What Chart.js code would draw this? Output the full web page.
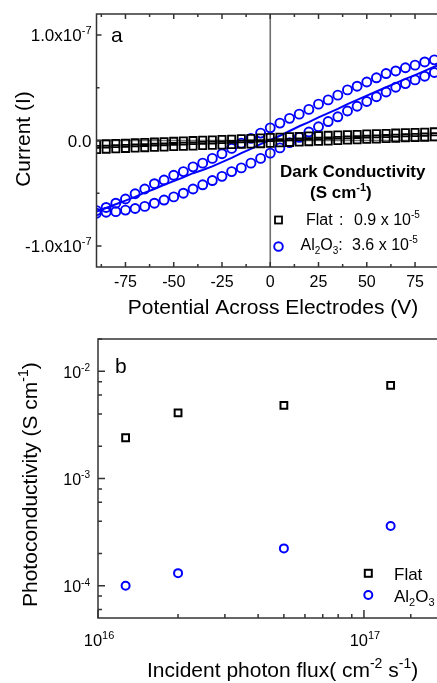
<!DOCTYPE html>
<html><head><meta charset="utf-8">
<script src="https://cdn.jsdelivr.net/npm/chart.js@4/dist/chart.umd.min.js"></script>
<style>
html,body{margin:0;padding:0;background:#fff;overflow:hidden;width:437px;height:683px;}
canvas{position:absolute;left:0;}
#ca{top:0;}
#cb{top:330px;}
</style></head><body>
<canvas id="ca" width="470" height="330"></canvas>
<canvas id="cb" width="470" height="353"></canvas>
<script>
// ---------- Panel a: I-V curves ----------
const potentials = [-90,-85,-80,-75,-70,-65,-60,-55,-50,-45,-40,-35,-30,-25,-20,-15,-10,-5,0,5,10,15,20,25,30,35,40,45,50,55,60,65,70,75,80,85];
const flatForward = [-0.35e-8,-0.32e-8,-0.28e-8,-0.25e-8,-0.21e-8,-0.18e-8,-0.15e-8,-0.11e-8,-0.08e-8,-0.05e-8,-0.01e-8,0.02e-8,0.05e-8,0.09e-8,0.12e-8,0.16e-8,0.2e-8,0.24e-8,0.28e-8,0.31e-8,0.35e-8,0.38e-8,0.42e-8,0.45e-8,0.49e-8,0.52e-8,0.55e-8,0.58e-8,0.61e-8,0.64e-8,0.67e-8,0.7e-8,0.73e-8,0.76e-8,0.79e-8,0.82e-8];
const flatReverse = [-0.85e-8,-0.82e-8,-0.78e-8,-0.75e-8,-0.72e-8,-0.68e-8,-0.65e-8,-0.62e-8,-0.58e-8,-0.55e-8,-0.52e-8,-0.48e-8,-0.45e-8,-0.42e-8,-0.39e-8,-0.36e-8,-0.33e-8,-0.3e-8,-0.26e-8,-0.22e-8,-0.18e-8,-0.15e-8,-0.11e-8,-0.08e-8,-0.04e-8,0.0,0.04e-8,0.07e-8,0.11e-8,0.14e-8,0.18e-8,0.21e-8,0.25e-8,0.28e-8,0.32e-8,0.35e-8];
const al2o3Forward = [-6.65e-8,-6.35e-8,-5.95e-8,-5.55e-8,-5.05e-8,-4.6e-8,-4.1e-8,-3.75e-8,-3.3e-8,-2.95e-8,-2.5e-8,-2.15e-8,-1.7e-8,-1.25e-8,-0.75e-8,-0.25e-8,0.2e-8,0.7e-8,1.2e-8,1.65e-8,2.1e-8,2.5e-8,2.95e-8,3.45e-8,3.85e-8,4.3e-8,4.8e-8,5.15e-8,5.55e-8,5.95e-8,6.35e-8,6.6e-8,6.9e-8,7.15e-8,7.45e-8,7.65e-8];
const al2o3Reverse = [-6.9e-8,-6.8e-8,-6.75e-8,-6.6e-8,-6.45e-8,-6.25e-8,-5.95e-8,-5.65e-8,-5.35e-8,-5.0e-8,-4.6e-8,-4.2e-8,-3.8e-8,-3.4e-8,-2.95e-8,-2.6e-8,-2.15e-8,-1.7e-8,-1.2e-8,-0.7e-8,-0.2e-8,0.3e-8,0.8e-8,1.3e-8,1.8e-8,2.25e-8,2.8e-8,3.25e-8,3.7e-8,4.15e-8,4.6e-8,5.05e-8,5.4e-8,5.75e-8,6.1e-8,6.45e-8];
const fitPotentials = [-90,-85,-80,-75,-70,-65,-60,-55,-50,-45,-40,-35,-30,-25,-20,-15,-10,-5,0,5,10,15,20,25,30,35,40,45,50,55,60,65,70,75,80,85,90];
const al2o3Fit = [-6.75e-8,-6.4e-8,-6.05e-8,-5.7e-8,-5.35e-8,-4.95e-8,-4.6e-8,-4.2e-8,-3.85e-8,-3.5e-8,-3.1e-8,-2.8e-8,-2.45e-8,-2.05e-8,-1.65e-8,-1.2e-8,-0.8e-8,-0.35e-8,0.05e-8,0.45e-8,0.9e-8,1.35e-8,1.75e-8,2.2e-8,2.6e-8,3.0e-8,3.45e-8,3.85e-8,4.25e-8,4.65e-8,5.05e-8,5.45e-8,5.85e-8,6.2e-8,6.6e-8,7.0e-8,7.35e-8];
const xTicksA = [-75,-50,-25,0,25,50,75];
const xMinorA = [-87.5,-62.5,-37.5,-12.5,12.5,37.5,62.5,87.5];
const yTicksA = [1e-7,0,-1e-7];
const yTickLabelsA = ['1.0x10^{-7}','0.0','-1.0x10^{-7}'];
const yMinorA = [5e-8,-5e-8];

// ---------- Panel b: photoconductivity ----------
const photonFlux = [1.27e16,2.0e16,5.0e16,1.26e17];
const flatPhoto = [2.4e-3,4.1e-3,4.8e-3,7.4e-3];
const al2o3Photo = [1.0e-4,1.31e-4,2.23e-4,3.6e-4];
const xTicksB = [1e16,1e17];
const xTickLabelsB = ['10^{16}','10^{17}'];
const yTicksB = [1e-2,1e-3,1e-4];
const yTickLabelsB = ['10^{-2}','10^{-3}','10^{-4}'];

const FONT = "'Liberation Sans', Arial, Helvetica, sans-serif";
const BLUE = '#0000ff';
const AXIS = '#333333';

function pts(xs, ys){ return xs.map((x,i)=>({x:x, y:ys[i]})); }
function parseRich(str){
  const segs=[]; const re=/\^\{([^}]*)\}|_\{([^}]*)\}|([^^_]+)/g; let m;
  while((m=re.exec(str))){
    if(m[1]!==undefined) segs.push({t:m[1],sup:true});
    else if(m[2]!==undefined) segs.push({t:m[2],sub:true});
    else segs.push({t:m[3]});
  }
  return segs;
}
function richFont(s,size,bold){ const sz=(s.sup||s.sub)?Math.round(size*0.65):size; return (bold?'bold ':'')+sz+'px '+FONT; }
function drawRich(ctx,str,x,y,size,opts){
  opts=opts||{};
  const segs=parseRich(str); const bold=!!opts.bold;
  let w=0; for(const s of segs){ctx.font=richFont(s,size,bold); w+=ctx.measureText(s.t).width;}
  let cx = opts.align==='right'?x-w:(opts.align==='center'?x-w/2:x);
  ctx.textAlign='left'; ctx.textBaseline='alphabetic'; ctx.fillStyle=opts.color||'#000';
  for(const s of segs){
    ctx.font=richFont(s,size,bold);
    const dy = s.sup?-size*0.42:(s.sub?size*0.25:0);
    ctx.fillText(s.t,cx,y+dy);
    cx+=ctx.measureText(s.t).width;
  }
}
function drawSquare(ctx,x,y,side,lw){ ctx.save(); ctx.strokeStyle='#000'; ctx.lineWidth=lw; ctx.strokeRect(x-side/2,y-side/2,side,side); ctx.restore(); }
function drawCircle(ctx,x,y,r,lw){ ctx.save(); ctx.strokeStyle=BLUE; ctx.lineWidth=lw; ctx.beginPath(); ctx.arc(x,y,r,0,Math.PI*2); ctx.stroke(); ctx.restore(); }

const panelA = {
  id:'panelA',
  beforeDatasetsDraw(chart){
    const {ctx, chartArea:a, scales:{x,y}} = chart;
    ctx.save(); ctx.strokeStyle='#707070'; ctx.lineWidth=1.6; ctx.beginPath();
    const x0=x.getPixelForValue(0), y0=y.getPixelForValue(0);
    ctx.moveTo(x0,a.top); ctx.lineTo(x0,a.bottom);
    ctx.moveTo(a.left,y0); ctx.lineTo(a.right,y0);
    ctx.stroke(); ctx.restore();
  },
  afterDraw(chart){
    const {ctx, chartArea:a, scales:{x,y}} = chart;
    ctx.save();
    ctx.strokeStyle=AXIS; ctx.lineWidth=1.5;
    ctx.strokeRect(a.left,a.top,a.right-a.left,a.bottom-a.top);
    ctx.beginPath();
    const tx=(v,len)=>{const px=x.getPixelForValue(v); ctx.moveTo(px,a.bottom); ctx.lineTo(px,a.bottom-len); ctx.moveTo(px,a.top); ctx.lineTo(px,a.top+len);};
    const ty=(v,len)=>{const py=y.getPixelForValue(v); ctx.moveTo(a.left,py); ctx.lineTo(a.left+len,py); ctx.moveTo(a.right,py); ctx.lineTo(a.right-len,py);};
    xTicksA.forEach(v=>tx(v,5)); xMinorA.forEach(v=>tx(v,3));
    yTicksA.forEach(v=>ty(v,5)); yMinorA.forEach(v=>ty(v,3));
    ctx.stroke();
    xTicksA.forEach(v=>drawRich(ctx,String(v),x.getPixelForValue(v),287,16,{align:'center'}));
    yTicksA.forEach((v,i)=>drawRich(ctx,yTickLabelsA[i],91.5,y.getPixelForValue(v)+6,17,{align:'right'}));
    drawRich(ctx,'Potential Across Electrodes (V)',273,314,21,{align:'center'});
    ctx.save(); ctx.translate(30,139); ctx.rotate(-Math.PI/2);
    drawRich(ctx,'Current (I)',0,0,21,{align:'center'}); ctx.restore();
    drawRich(ctx,'a',111,42,21);
    // legend
    drawRich(ctx,'Dark Conductivity',280,177,17,{bold:true});
    drawRich(ctx,'(S cm^{-1})',310,198,17,{bold:true});
    drawSquare(ctx,278.5,220,7,1.8);
    drawRich(ctx,'Flat',306,225,16);
    drawRich(ctx,':',339,225,16);
    drawRich(ctx,'0.9 x 10^{-5}',354,225,16);
    drawCircle(ctx,278.5,246.5,4.3,1.9);
    drawRich(ctx,'Al_{2}O_{3}:',300.5,250,16);
    drawRich(ctx,'3.6 x 10^{-5}',352,250,16);
    ctx.restore();
  }
};

const panelB = {
  id:'panelB',
  afterDraw(chart){
    const {ctx, chartArea:a, scales:{x,y}} = chart;
    ctx.save();
    ctx.strokeStyle=AXIS; ctx.lineWidth=1.5;
    ctx.strokeRect(a.left,a.top,a.right-a.left,a.bottom-a.top);
    ctx.beginPath();
    const tx=(v,len)=>{const px=x.getPixelForValue(v); ctx.moveTo(px,a.bottom); ctx.lineTo(px,a.bottom-len);};
    const ty=(v,len)=>{const py=y.getPixelForValue(v); ctx.moveTo(a.left,py); ctx.lineTo(a.left+len,py); ctx.moveTo(a.right,py); ctx.lineTo(a.right-len,py);};
    x.ticks.forEach(t=>{ const m=Math.log10(t.value); const major=Math.abs(m-Math.round(m))<1e-9; tx(t.value, major?8:4); });
    y.ticks.forEach(t=>{ const m=Math.log10(t.value); const major=Math.abs(m-Math.round(m))<1e-9; ty(t.value, major?7:4); });
    ctx.stroke();
    xTicksB.forEach((v,i)=>drawRich(ctx,xTickLabelsB[i],x.getPixelForValue(v)+1,316,16.5,{align:'center'}));
    yTicksB.forEach((v,i)=>drawRich(ctx,yTickLabelsB[i],90,y.getPixelForValue(v)+6.5,16,{align:'right'}));
    drawRich(ctx,'Incident photon flux( cm^{-2} s^{-1})',147,347,21);
    ctx.save(); ctx.translate(37,277); ctx.rotate(-Math.PI/2);
    drawRich(ctx,'Photoconductivity (S cm^{-1})',0,0,21); ctx.restore();
    drawRich(ctx,'b',115,43,21);
    drawSquare(ctx,368.3,243.3,7,2);
    drawRich(ctx,'Flat',394,250,17);
    drawCircle(ctx,368.3,265,4,2);
    drawRich(ctx,'Al_{2}O_{3}',394,271.5,17);
    ctx.restore();
  }
};

Chart.defaults.font.family = FONT;

new Chart(document.getElementById('ca'), {
  type:'scatter',
  data:{datasets:[
    {label:'Flat forward', data:pts(potentials,flatForward), pointStyle:'rect', pointRadius:5.1, borderColor:'#000', backgroundColor:'rgba(0,0,0,0)', borderWidth:1.8},
    {label:'Flat reverse', data:pts(potentials,flatReverse), pointStyle:'rect', pointRadius:5.1, borderColor:'#000', backgroundColor:'rgba(0,0,0,0)', borderWidth:1.8},
    {label:'Al2O3 fit', data:pts(fitPotentials,al2o3Fit), showLine:true, pointRadius:0, borderColor:BLUE, borderWidth:2, backgroundColor:BLUE},
    {label:'Al2O3 forward', data:pts(potentials,al2o3Forward), pointStyle:'circle', pointRadius:4.5, borderColor:BLUE, backgroundColor:'rgba(0,0,0,0)', borderWidth:1.9},
    {label:'Al2O3 reverse', data:pts(potentials,al2o3Reverse), pointStyle:'circle', pointRadius:4.5, borderColor:BLUE, backgroundColor:'rgba(0,0,0,0)', borderWidth:1.9}
  ]},
  options:{
    responsive:false, animation:false, devicePixelRatio:1,
    layout:{padding:{left:96.5,top:14,right:26,bottom:63}},
    plugins:{legend:{display:false}, tooltip:{enabled:false}},
    scales:{
      x:{type:'linear', min:-90, max:90, display:false},
      y:{type:'linear', min:-1.2e-7, max:1.2e-7, display:false}
    }
  },
  plugins:[panelA]
});

new Chart(document.getElementById('cb'), {
  type:'scatter',
  data:{datasets:[
    {label:'Flat', data:pts(photonFlux,flatPhoto), pointStyle:'rect', pointRadius:4.8, borderColor:'#000', backgroundColor:'rgba(0,0,0,0)', borderWidth:2},
    {label:'Al2O3', data:pts(photonFlux,al2o3Photo), pointStyle:'circle', pointRadius:4, borderColor:BLUE, backgroundColor:'rgba(0,0,0,0)', borderWidth:2}
  ]},
  options:{
    responsive:false, animation:false, devicePixelRatio:1,
    layout:{padding:{left:98,top:9,right:26,bottom:65}},
    plugins:{legend:{display:false}, tooltip:{enabled:false}},
    scales:{
      x:{type:'logarithmic', min:1e16, max:2e17, display:false},
      y:{type:'logarithmic', min:5e-5, max:2e-2, display:false}
    }
  },
  plugins:[panelB]
});
</script>
</body></html>
